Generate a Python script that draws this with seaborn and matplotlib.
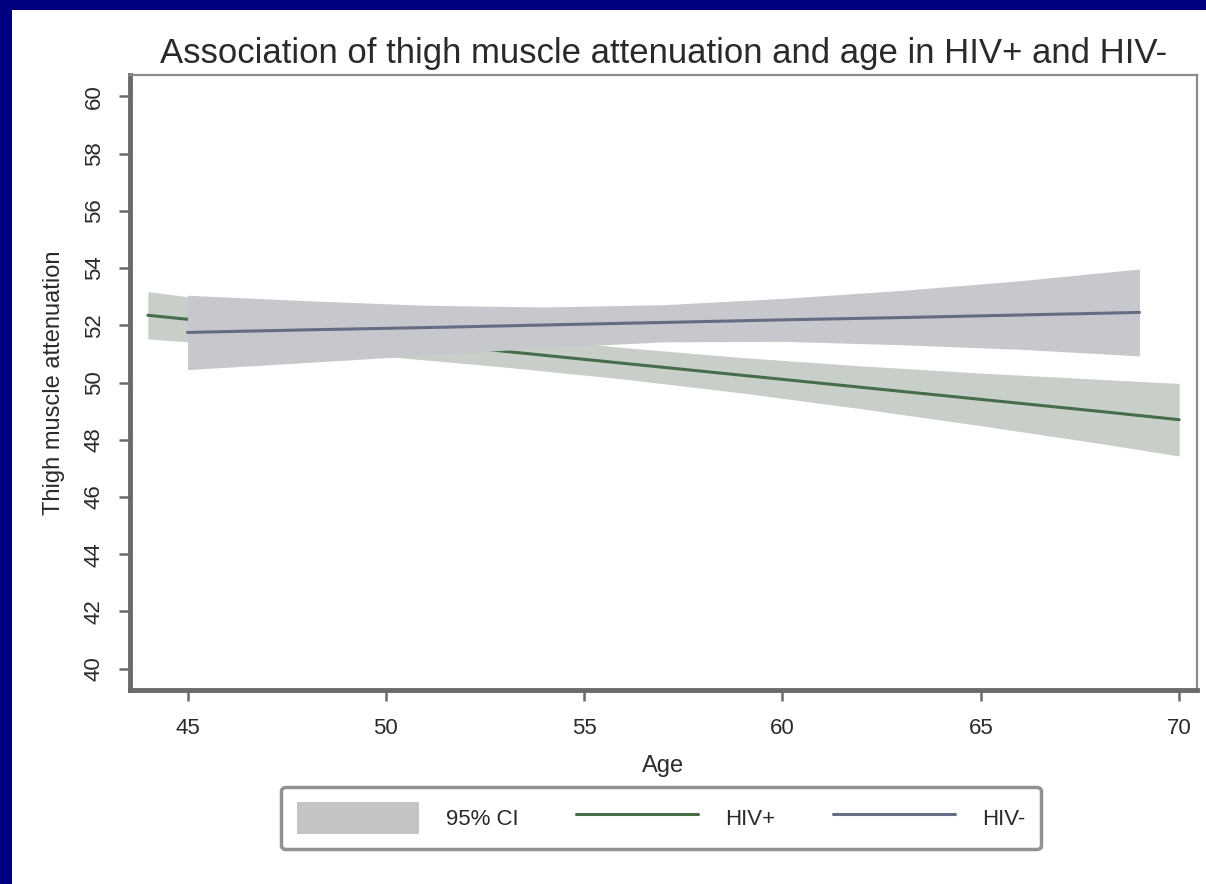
import matplotlib
matplotlib.use("Agg")
import matplotlib.pyplot as plt
from matplotlib.patches import Rectangle
from matplotlib.lines import Line2D
import pandas as pd
import seaborn as sns

# Fitted values and 95% confidence limits by age
age_pos = [44, 47, 50, 53, 56, 59, 62, 65, 68, 70]
fit_pos = [52.35, 51.93, 51.51, 51.09, 50.67, 50.25, 49.83, 49.41, 48.99, 48.70]
lo_pos = [51.52, 51.23, 50.91, 50.54, 50.12, 49.63, 49.08, 48.49, 47.87, 47.43]
hi_pos = [53.18, 52.63, 52.11, 51.64, 51.22, 50.87, 50.58, 50.33, 50.11, 49.97]

age_neg = [45, 48, 51, 54, 57, 60, 63, 66, 69]
fit_neg = [51.75, 51.84, 51.92, 52.01, 52.10, 52.19, 52.27, 52.36, 52.45]
lo_neg = [50.45, 50.70, 50.95, 51.22, 51.42, 51.44, 51.32, 51.16, 50.93]
hi_neg = [53.05, 52.86, 52.70, 52.64, 52.72, 52.94, 53.22, 53.56, 53.97]

x_ticks = [45, 50, 55, 60, 65, 70]
y_ticks = [40, 42, 44, 46, 48, 50, 52, 54, 56, 58, 60]

title = "Association of thigh muscle attenuation and age in HIV+ and HIV-"
legend_labels = ["95% CI", "HIV+", "HIV-"]

sns.set_theme(style="white")
plt.rcParams["font.family"] = ["Liberation Sans Narrow", "Liberation Sans", "DejaVu Sans"]

col_pos_line = "#466c4a"
col_neg_line = "#646d84"
col_pos_band = "#c8cfc8"
col_neg_band = "#c6c8cd"
col_axis = "#6a6a6a"
txt = "#2a2a2a"

fig = plt.figure(figsize=(12.06, 8.84), dpi=100)
fig.patch.set_facecolor("#000080")
# white slide panel behind the chart
fig.patches.append(Rectangle((12 / 1206, 0), 1, 1 - 10 / 884, transform=fig.transFigure,
                             facecolor="white", edgecolor="none", zorder=-10))

ax = fig.add_axes([130 / 1206, 1 - 690 / 884, (1197 - 130) / 1206, (690 - 75) / 884])
ax.set_zorder(1)
ax.set_facecolor("white")

df_pos = pd.DataFrame({"age": age_pos, "fit": fit_pos})
df_neg = pd.DataFrame({"age": age_neg, "fit": fit_neg})

ax.fill_between(age_pos, lo_pos, hi_pos, color=col_pos_band, lw=0, zorder=1)
sns.lineplot(data=df_pos, x="age", y="fit", ax=ax, color=col_pos_line, lw=2.2, zorder=2)
ax.fill_between(age_neg, lo_neg, hi_neg, color=col_neg_band, lw=0, zorder=3)
sns.lineplot(data=df_neg, x="age", y="fit", ax=ax, color=col_neg_line, lw=2.2, zorder=4)

ax.set_xlim(43.55, 70.45)
ax.set_ylim(39.25, 60.75)
ax.set_xticks(x_ticks)
ax.set_yticks(y_ticks)
ax.set_xticklabels([str(v) for v in x_ticks], fontsize=16, color=txt)
ax.set_yticklabels([str(v) for v in y_ticks], fontsize=16, color=txt, rotation=90, va="center")
ax.tick_params(axis="both", direction="out", length=8, width=1.8, color=col_axis, bottom=True, left=True)
ax.tick_params(axis="x", pad=12)
ax.tick_params(axis="y", pad=10)

for side in ["left", "bottom"]:
    ax.spines[side].set_linewidth(3.5)
    ax.spines[side].set_color(col_axis)
for side in ["top", "right"]:
    ax.spines[side].set_linewidth(1.6)
    ax.spines[side].set_color("#8a8a8a")

ax.set_xlabel("Age", fontsize=17, color=txt, labelpad=12)
ax.set_ylabel("Thigh muscle attenuation", fontsize=17, color=txt, labelpad=14)
ax.set_title(title, fontsize=25, color=txt, pad=9)

handles = [
    Rectangle((0, 0), 1, 1, facecolor="#c4c4c4", edgecolor="none"),
    Line2D([0], [0], color=col_pos_line, lw=2.2),
    Line2D([0], [0], color=col_neg_line, lw=2.2),
]
leg = fig.legend(handles, legend_labels, loc="center", bbox_to_anchor=(661 / 1206, 1 - 818 / 884),
                 ncol=3, fontsize=16, frameon=True, fancybox=True, handlelength=5.5,
                 handleheight=1.8, handletextpad=1.2, columnspacing=2.6, borderpad=0.7)
frame = leg.get_frame()
frame.set_edgecolor("#777777")
frame.set_linewidth(2.5)
frame.set_facecolor("white")
for t in leg.get_texts():
    t.set_color(txt)

fig.savefig("out.png", dpi=100, facecolor=fig.get_facecolor())
